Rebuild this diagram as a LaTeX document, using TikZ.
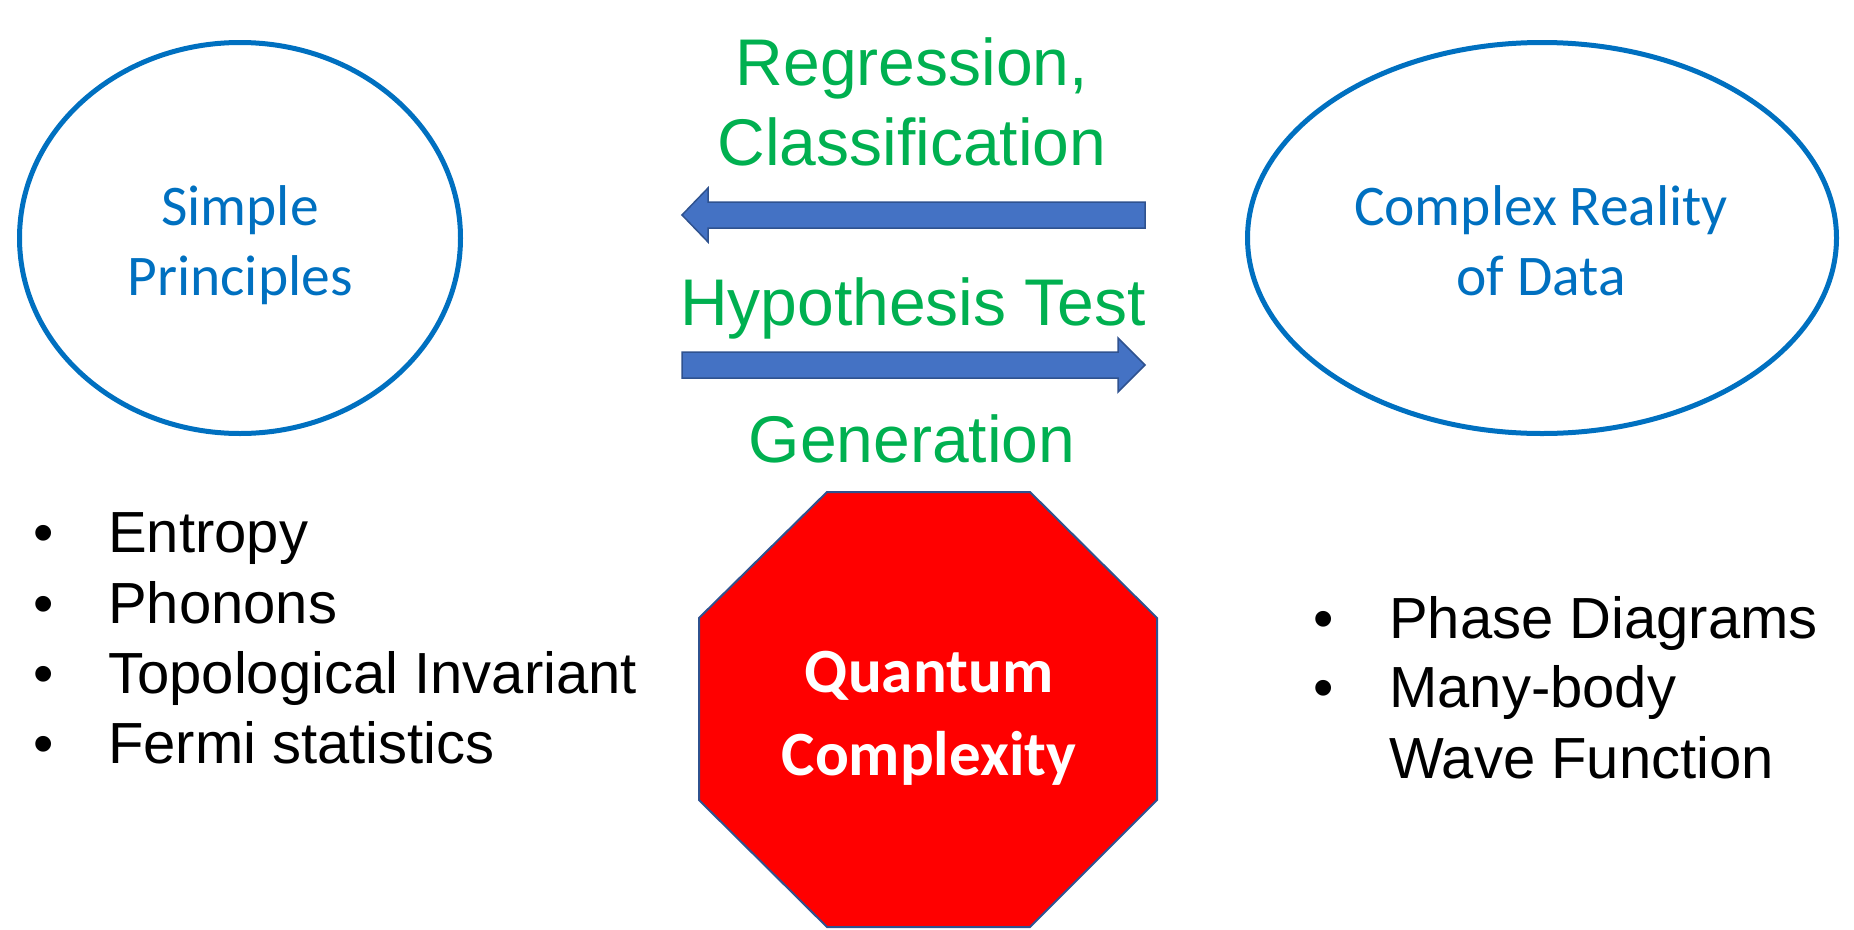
\documentclass[tikz,border=0pt]{standalone}
\usepackage{fontspec}
\setmainfont{Liberation Sans}
\newfontfamily\calibri{Carlito}
\usetikzlibrary{shapes.geometric}
\definecolor{ellblue}{HTML}{0070C0}
\definecolor{grn}{HTML}{00B050}
\definecolor{arrfill}{HTML}{4472C4}
\definecolor{arrline}{HTML}{2F528F}
\definecolor{stopred}{HTML}{FF0000}
\begin{document}
\begin{tikzpicture}[x=1pt,y=-1pt,
  ellbox/.style={draw=ellblue,line width=5pt,ellipse,inner sep=0pt},
  elltext/.style={text=ellblue,font=\calibri\fontsize{57.5}{70}\selectfont,anchor=base,inner sep=0pt},
  greentext/.style={text=grn,font=\fontsize{66}{78}\selectfont,anchor=base,inner sep=0pt},
  blockarrow/.style={fill=arrfill,draw=arrline,line width=1.5pt,line join=miter},
  stopsign/.style={fill=stopred,draw=arrline,line width=2pt},
  stoptext/.style={text=white,font=\calibri\bfseries\fontsize{63}{80}\selectfont,anchor=base,inner sep=0pt},
  bul/.style={font=\fontsize{58}{70}\selectfont,anchor=base,inner sep=0pt},
  item/.style={font=\fontsize{58}{70}\selectfont,anchor=base west,inner sep=0pt}]
\useasboundingbox (0,0) rectangle (1854,929);
% ellipses
\node[ellbox,minimum width=441pt,minimum height=391pt] (simple) at (240,238) {};
\node[elltext] (simpleA) at (240,225) {Simple};
\node[elltext] (simpleB) at (240,295) {Principles};
\node[ellbox,minimum width=589pt,minimum height=391pt] (complex) at (1542,238) {};
\node[elltext] (complexA) at (1541,225) {Complex Reality};
\node[elltext] (complexB) at (1541,295) {of Data};
% green labels
\node[greentext] (regr) at (912,85) {Regression,};
\node[greentext] (class) at (912,165) {Classification};
\node[greentext] (hypo) at (913,325) {Hypothesis Test};
\node[greentext] (gen) at (912,462) {Generation};
% block arrows
\draw[blockarrow] (1145,202) -- (708,202) -- (708,188) -- (682,215) -- (708,242) -- (708,228) -- (1145,228) -- cycle;
\draw[blockarrow] (682,352) -- (1118,352) -- (1118,338) -- (1145,365) -- (1118,392) -- (1118,378) -- (682,378) -- cycle;
% stop sign
\draw[stopsign] (827,492) -- (1030,492) -- (1157,618) -- (1157,800) -- (1030,927) -- (827,927) -- (699,800) -- (699,618) -- cycle;
\node[stoptext] (qa) at (929,692) {Quantum};
\node[stoptext] (qb) at (929,775) {Complexity};
% left list
\node[bul] (lb1) at (44,552) {•};
\node[item] (li1) at (108,552) {Entropy};
\node[bul] (lb2) at (44,623) {•};
\node[item] (li2) at (108,623) {Phonons};
\node[bul] (lb3) at (44,693) {•};
\node[item] (li3) at (108,693) {Topological Invariant};
\node[bul] (lb4) at (44,763) {•};
\node[item] (li4) at (108,763) {Fermi statistics};
% right list
\node[bul] (rb1) at (1324,638) {•};
\node[item] (ri1) at (1389,638) {Phase Diagrams};
\node[bul] (rb2) at (1324,707) {•};
\node[item] (ri2) at (1389,707) {Many-body};
\node[item] (ri3) at (1389,778) {Wave Function};
\end{tikzpicture}
\end{document}
